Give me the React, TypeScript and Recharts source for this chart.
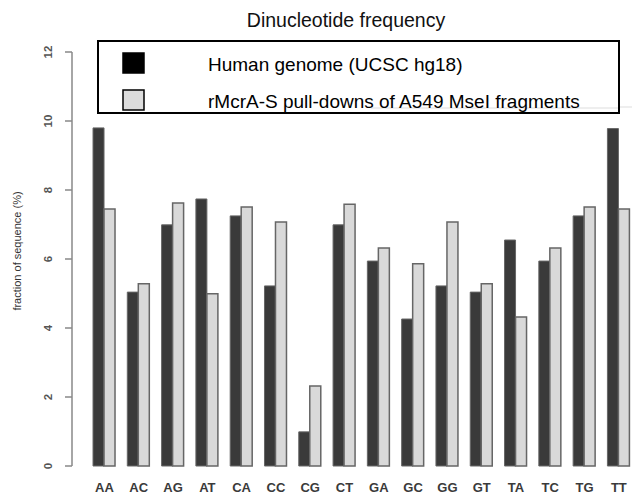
import React from 'react';
import { BarChart, Bar, XAxis, YAxis, Legend } from 'recharts';

const categories = ['AA', 'AC', 'AG', 'AT', 'CA', 'CC', 'CG', 'CT', 'GA', 'GC', 'GG', 'GT', 'TA', 'TC', 'TG', 'TT'];
const humanGenome = [9.8, 5.04, 6.99, 7.74, 7.25, 5.22, 0.99, 6.99, 5.94, 4.26, 5.22, 5.04, 6.55, 5.94, 7.25, 9.78];
const pullDowns = [7.45, 5.28, 7.62, 4.99, 7.51, 7.07, 2.32, 7.59, 6.32, 5.86, 7.07, 5.28, 4.32, 6.32, 7.51, 7.45];
const yTicks = [0, 2, 4, 6, 8, 10, 12];
const seriesNames = ['Human genome (UCSC hg18)', 'rMcrA-S pull-downs of A549 MseI fragments'];
const titleText = 'Dinucleotide frequency';
const yLabelText = 'fraction of sequence (%)';

const data = categories.map((c, i) => ({ name: c, human: humanGenome[i], pull: pullDowns[i] }));

const FONT = '"Liberation Sans", Arial, Helvetica, sans-serif';

const YTick = (props: any) => {
  const { x, y, payload } = props;
  const bx = x - 13;
  return (
    <g transform={`translate(${bx},${y}) rotate(-90)`}>
      <text x={0} y={0} textAnchor="middle" fontSize={11.5} fontWeight="bold" fontFamily={FONT} fill="#555">
        {payload.value}
      </text>
    </g>
  );
};

const XTick = (props: any) => {
  const { x, y, payload } = props;
  return (
    <text x={x} y={y} textAnchor="middle" fontSize={13} fontWeight="bold" fontFamily={FONT} fill="#3a3a3a">
      {payload.value}
    </text>
  );
};

const LegendBox = (props: any) => {
  const { payload } = props;
  const items = payload || [];
  return (
    <div style={{ width: 523, height: 74, boxSizing: 'border-box', border: '2px solid #000', background: '#fff' }}>
      <svg width={519} height={70} style={{ display: 'block' }}>
        <line x1={272} x2={519} y1={66} y2={66} stroke="#ddd" strokeWidth={1} />
        {items.map((p: any, i: number) => {
          const top = i === 0 ? 11 : 48;
          return (
            <g key={i}>
              <rect
                x={24}
                y={top}
                width={21}
                height={20}
                fill={i === 0 ? '#000' : '#dcdcdc'}
                stroke="#000"
                strokeWidth={1.5}
              />
              <text x={109} y={top + 18} fontSize={19} fontFamily={FONT} fill="#000">
                {p.value}
              </text>
            </g>
          );
        })}
      </svg>
    </div>
  );
};

export default function App() {
  return (
    <div style={{ position: 'relative', width: 632, height: 494, overflow: 'hidden', background: '#fff' }}>
      <style>{`html,body{margin:0;padding:0;overflow:hidden;background:#fff}`}</style>
      <BarChart
        width={640}
        height={494}
        data={data}
        margin={{ top: 52, right: 4, bottom: 0, left: 0 }}
        barCategoryGap="16.67%"
        barGap={0}
      >
        <XAxis
          dataKey="name"
          height={28}
          axisLine={false}
          tickLine={false}
          tickSize={0}
          tickMargin={26}
          interval={0}
          padding={{ left: 15.3, right: 0 }}
          tick={<XTick />}
        />
        <YAxis
          width={72}
          domain={[0, 12]}
          ticks={yTicks}
          interval={0}
          axisLine={{ stroke: '#888', strokeWidth: 1.5 }}
          tickLine={{ stroke: '#888', strokeWidth: 1.5 }}
          tickSize={7}
          tickMargin={0}
          tick={<YTick />}
          label={{
            content: (p: any) => {
              const vb = p.viewBox || { y: 52, height: 414 };
              const cy = vb.y + vb.height / 2 - 8;
              return (
                <g transform={`translate(21,${cy}) rotate(-90)`}>
                  <text x={0} y={0} textAnchor="middle" fontSize={11} fontFamily={FONT} fill="#333">
                    {yLabelText}
                  </text>
                </g>
              );
            },
          }}
        />
        <Legend
          layout="horizontal"
          verticalAlign="middle"
          align="center"
          content={<LegendBox />}
          wrapperStyle={{ left: 97, top: 40, width: 523, height: 74 }}
        />
        <Bar dataKey="human" name={seriesNames[0]} fill="#3a3a3a" stroke="#666" strokeWidth={1} isAnimationActive={false} />
        <Bar dataKey="pull" name={seriesNames[1]} fill="#d9d9d9" stroke="#666" strokeWidth={1.5} isAnimationActive={false} />
      </BarChart>
      <svg width={632} height={494} style={{ position: 'absolute', left: 0, top: 0, pointerEvents: 'none' }}>
        <line x1={620} x2={632} y1={107} y2={107} stroke="#ddd" strokeWidth={1} />
        <text x={346} y={27} textAnchor="middle" fontSize={19.5} fontFamily={FONT} fill="#111">
          {titleText}
        </text>
      </svg>
    </div>
  );
}
